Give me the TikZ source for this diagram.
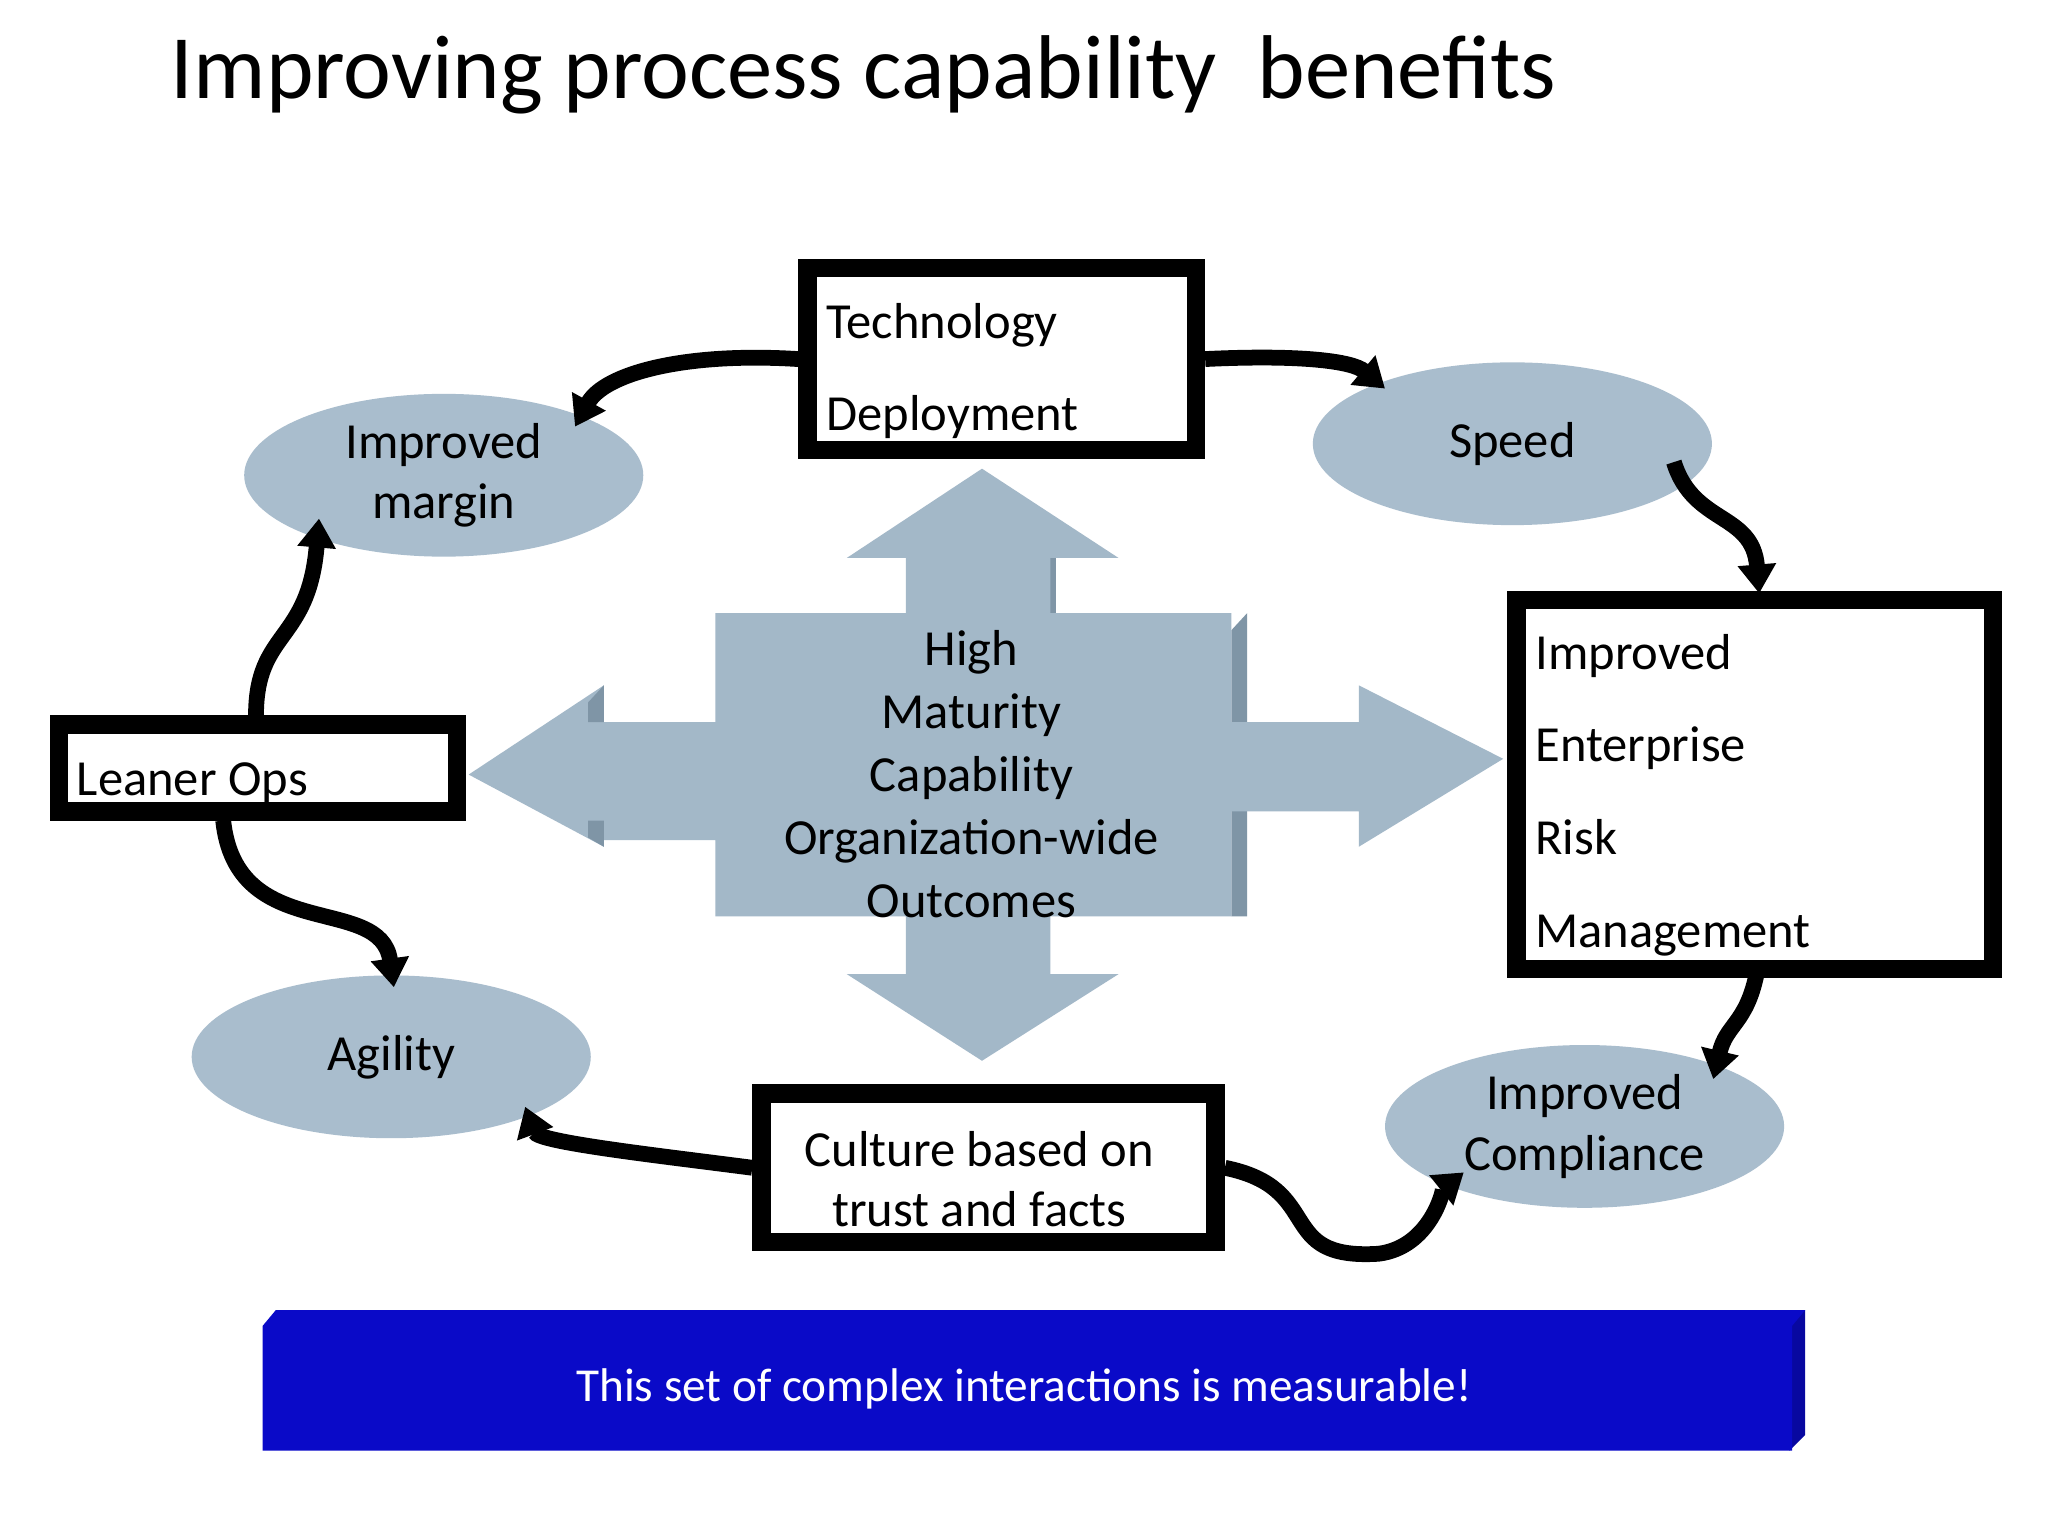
\documentclass[tikz,border=0pt]{standalone}
\usepackage{fontspec}
\setmainfont{Carlito}
\usetikzlibrary{shapes.geometric,arrows.meta}
\definecolor{ell}{HTML}{A9BDCD}
\definecolor{crs}{HTML}{A3B8C8}
\definecolor{crsd}{HTML}{7F95A6}
\definecolor{bar}{HTML}{0A0AC8}
\begin{document}
\begin{tikzpicture}[x=1pt,y=-1pt,
  txt/.style={font=\fontsize{38.5}{44}\selectfont},
  oval/.style={ellipse,fill=ell,minimum width=304,minimum height=124,inner sep=0,txt,align=center},
  bbox/.style={draw=black,line width=14,rectangle,inner sep=0,anchor=north west},
  conn/.style={line width=12,-{Triangle[length=22,width=28]}}]
\useasboundingbox (0,0) rectangle (1560,1170);
\fill[white] (0,0) rectangle (1560,1170);
\node[anchor=base west,font=\fontsize{69}{76}\selectfont,inner sep=0] (title) at (130,75) {Improving process capability\ \ benefits};
% cross
\fill[crsd] (790,425) -- (804,425) -- (804,470) -- (790,470) -- cycle;
\fill[crsd] (938,480) -- (950,467) -- (950,698) -- (938,698) -- cycle;
\fill[crs] (690,467) -- (690,425) -- (645,425) -- (748,357) -- (852,425) -- (800,425) -- (800,467)
 -- (938,467) -- (938,550) -- (1035,550) -- (1035,522) -- (1145,578) -- (1035,645) -- (1035,618) -- (938,618)
 -- (938,698) -- (800,698) -- (800,742) -- (852,742) -- (748,808) -- (645,742) -- (690,742) -- (690,698)
 -- (545,698) -- (545,640) -- (460,640) -- (460,645) -- (357,590) -- (460,522) -- (460,550) -- (545,550) -- (545,467) -- cycle;
\fill[crsd] (448,535) -- (460,522) -- (460,550) -- (448,550) -- cycle;
\fill[crsd] (448,625) -- (460,625) -- (460,645) -- (448,638) -- cycle;
\node[txt,align=center] (center) at (740,590) {High\\[4pt]Maturity\\[4pt]Capability\\[4pt]Organization-wide\\[4pt]Outcomes};
% ellipses
\node[oval] (margin) at (338,362) {Improved\\[2pt]margin};
\node[oval] (speed) at (1152,338) {Speed};
\node[oval] (agility) at (298,805) {Agility};
\node[oval] (compl) at (1207,858) {Improved\\[2pt]Compliance};
% boxes
\node[bbox,minimum width=296,minimum height=139] (tech) at (608,197) {};
\node[txt,anchor=base west] at (626,258) {Technology};
\node[txt,anchor=base west] at (626,328) {Deployment};
\node[bbox,minimum width=363,minimum height=281] (erm) at (1148,450) {};
\node[txt,anchor=base west] at (1166,510) {Improved};
\node[txt,anchor=base west] at (1166,580) {Enterprise};
\node[txt,anchor=base west] at (1166,651) {Risk};
\node[txt,anchor=base west] at (1166,722) {Management};
\node[bbox,minimum width=303,minimum height=66] (lean) at (38,545) {};
\node[txt,anchor=base west] at (55,606) {Leaner Ops};
\node[bbox,minimum width=346,minimum height=113] (cult) at (573,826) {};
\node[txt,align=center] at (746,898) {Culture based on\\[2pt]trust and facts};
% connectors
\draw[conn] (tech.west) .. controls (520,268) and (460,285) .. (438,325);
\draw[conn] (tech.east) .. controls (990,270) and (1030,275) .. (1055,296);
\draw[conn] (1275,352) .. controls (1290,400) and (1335,390) .. (1340,452);
\draw[conn] (1338,742) .. controls (1330,780) and (1315,780) .. (1305,822);
\draw[conn] (cult.east) .. controls (1010,905) and (970,960) .. (1050,955) .. controls (1090,950) and (1100,905) .. (1115,893);
\draw[conn] (cult.west) .. controls (500,880) and (410,870) .. (400,843);
\draw[conn] (170,625) .. controls (180,720) and (290,680) .. (300,752);
\draw[conn] (195,545) .. controls (195,480) and (235,490) .. (243,395);
% bar
\fill[bar!80!black] (210,998) -- (1375,998) -- (1375,1093) -- (1363,1105) -- (1363,998) -- cycle;
\fill[bar] (200,1010) -- (210,998) -- (1375,998) -- (1365,1010) -- (1365,1105) -- (200,1105) -- cycle;
\node[txt,text=white,font=\fontsize{36}{40}\selectfont] (msg) at (780,1058) {This set of complex interactions is measurable!};
\end{tikzpicture}
\end{document}
